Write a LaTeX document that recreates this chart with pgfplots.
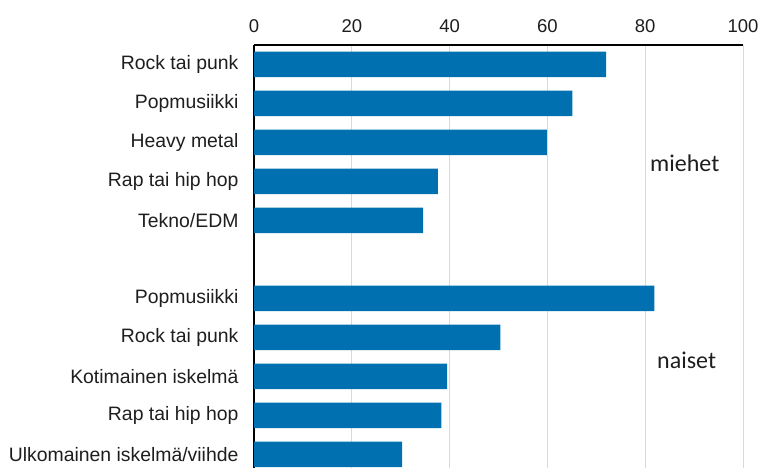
\documentclass[border=0pt]{standalone}
\usepackage{pgfplots}
\pgfplotsset{compat=1.18}
\usepackage{fontspec}
\setmainfont{Liberation Sans}
\newfontfamily\labfont{Carlito}
\definecolor{barblue}{RGB}{0,112,176}
\definecolor{gridgray}{RGB}{217,217,217}
\definecolor{txt}{RGB}{30,30,30}
\begin{document}
\begin{tikzpicture}
\useasboundingbox (0pt,0pt) rectangle (760pt,468pt);
\begin{axis}[
  at={(254pt,423pt)}, anchor=north west,
  scale only axis, width=489pt, height=423pt,
  xmin=0, xmax=100, ymin=-0.5, ymax=10.35,
  y dir=reverse,
  axis x line*=top,
  axis y line*=left,
  axis line style={black, line width=1.2pt},
  xtick={0,20,40,60,80,100},
  xmajorgrids, grid style={gridgray, line width=1pt},
  major tick length=0pt,
  ytick={0,1,2,3,4,6,7,8,9,10},
  yticklabels={Rock tai punk,Popmusiikki,Heavy metal,Rap tai hip hop,Tekno/EDM,Popmusiikki,Rock tai punk,Kotimainen iskelmä,Rap tai hip hop,Ulkomainen iskelmä/viihde},
  xticklabel style={font=\fontsize{18.5}{20}\selectfont, text=txt, yshift=9pt},
  yticklabel style={font=\fontsize{19.4}{21}\selectfont, text=txt, xshift=-12pt},
  /pgf/number format/assume math mode=true,
  clip=false,
]
\addplot[xbar, bar width=25.5pt, fill=barblue, draw=none] coordinates {
(72.0,0) (65.1,1) (59.9,2) (37.6,3) (34.6,4)
(81.9,6) (50.4,7) (39.5,8) (38.3,9) (30.3,10)};
\end{axis}
\node[anchor=base west, text=txt, font=\labfont\fontsize{24}{26}\selectfont, inner sep=0pt] at (650pt,296pt) {miehet};
\node[anchor=base west, text=txt, font=\labfont\fontsize{24}{26}\selectfont, inner sep=0pt] at (657pt,99pt) {naiset};
\end{tikzpicture}
\end{document}
